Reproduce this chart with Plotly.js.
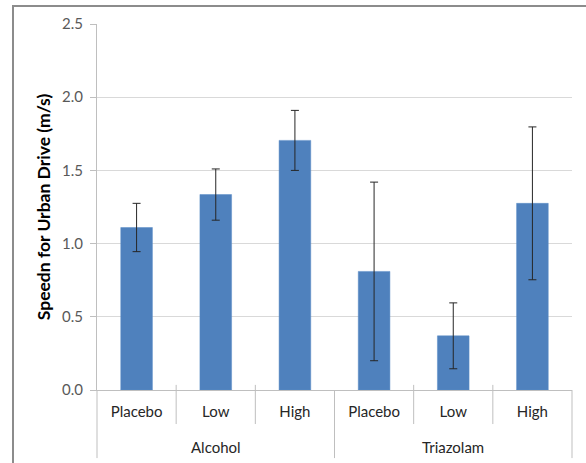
<!DOCTYPE html>
<html>
<head>
<meta charset="utf-8">
<script src="https://cdn.plot.ly/plotly-3.0.1.min.js"></script>
<style>
  html, body { margin: 0; padding: 0; background: #ffffff; }
  #frame { position: absolute; left: 0; top: 0; width: 586px; height: 463px; overflow: hidden; }
  #border { position: absolute; left: 12px; top: 5px; width: 600px; height: 500px;
            border-left: 2px solid #8c8c8c; border-top: 2px solid #8c8c8c; pointer-events: none; }
  #chart { position: absolute; left: 0; top: 0; width: 586px; height: 463px; }
</style>
</head>
<body>
<div id="frame">
  <div id="chart"></div>
  <div id="border"></div>
</div>
<script>
const groups = ["Alcohol", "Alcohol", "Alcohol", "Triazolam", "Triazolam", "Triazolam"];
const levels = ["Placebo", "Low", "High", "Placebo", "Low", "High"];
const speed = [1.11, 1.335, 1.705, 0.81, 0.37, 1.275];
const errors = [0.165, 0.175, 0.205, 0.61, 0.225, 0.522];
const yTicks = [0, 0.5, 1.0, 1.5, 2.0, 2.5];
const yTickText = ["0.0", "0.5", "1.0", "1.5", "2.0", "2.5"];

const font = "Lato, 'Open Sans', sans-serif";
const n = levels.length;
const idx = levels.map((_, i) => i);

const trace = {
  type: "bar",
  x: idx,
  y: speed,
  marker: { color: "#4f81bd", line: { color: "#5b8cc6", width: 0.5 } },
  width: 0.4,
  error_y: { type: "data", array: errors, visible: true, color: "#262626", thickness: 1, width: 4 },
  hoverinfo: "none"
};

// divider lines: short ones between every category, long ones at group edges
const shapes = [];
for (let b = 0; b <= n; b++) {
  const isGroupEdge = (b === 0 || b === n || groups[b] !== groups[b - 1]);
  shapes.push({
    type: "line", xref: "paper", yref: "paper",
    x0: b / n, x1: b / n,
    y0: isGroupEdge ? 0 : 0.014, y1: isGroupEdge ? -0.186 : -0.093,
    line: { color: "#bfbfbf", width: 1 }
  });
}

// group labels centred under their categories
const annotations = [];
const uniqueGroups = [...new Set(groups)];
uniqueGroups.forEach(g => {
  const members = idx.filter(i => groups[i] === g);
  const mid = (members[0] + members[members.length - 1]) / 2;
  annotations.push({
    xref: "x", yref: "paper", x: mid, y: -0.155, yanchor: "middle",
    text: g, showarrow: false,
    font: { family: font, size: 15, color: "#262626" }
  });
});

const layout = {
  width: 586, height: 463,
  margin: { l: 97, r: 14, t: 24, b: 73 },
  paper_bgcolor: "#ffffff", plot_bgcolor: "#ffffff",
  showlegend: false,
  font: { family: font, size: 15, color: "#404040" },
  shapes: shapes,
  annotations: annotations,
  xaxis: {
    range: [-0.5, n - 0.5],
    tickvals: idx, ticktext: levels,
    showline: true, linecolor: "#bfbfbf", linewidth: 1,
    ticks: "", showgrid: false, zeroline: false,
    ticklabelstandoff: 8,
    tickfont: { family: font, size: 15, color: "#262626" }
  },
  yaxis: {
    range: [0, 2.5],
    tickvals: yTicks, ticktext: yTickText,
    showgrid: true, gridcolor: "#d9d9d9", gridwidth: 1,
    showline: true, linecolor: "#bfbfbf", linewidth: 1,
    ticks: "outside", ticklen: 6, tickcolor: "#bfbfbf",
    zeroline: false,
    ticklabelstandoff: 4,
    tickfont: { family: font, size: 15, color: "#595959" },
    title: { text: "Speedn for Urban Drive (m/s)", font: { family: font, size: 17.5, color: "#000000", weight: "bold" }, standoff: 6 }
  }
};

Plotly.newPlot("chart", [trace], layout, { displayModeBar: false, staticPlot: true });
</script>
</body>
</html>
